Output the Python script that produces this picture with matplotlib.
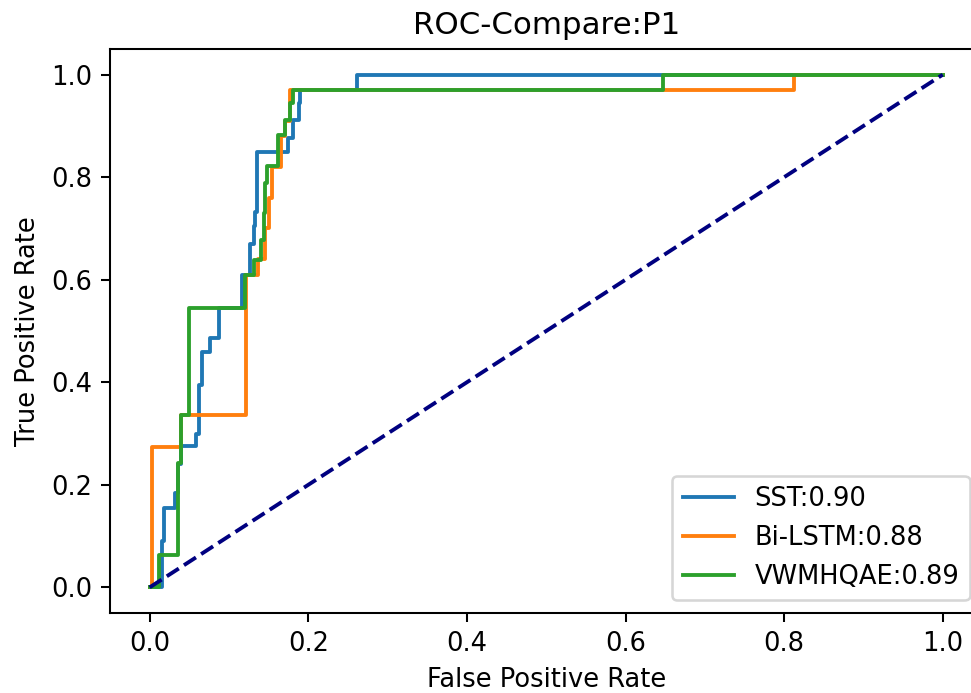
import numpy as np
import matplotlib
matplotlib.use('Agg')
import matplotlib.pyplot as plt

# ROC vertices (fpr, tpr)
sst_fpr = [0.0, 0.015, 0.015, 0.018, 0.018, 0.032, 0.032, 0.036, 0.036, 0.039, 0.039,
           0.059, 0.059, 0.062, 0.062, 0.066, 0.066, 0.076, 0.076, 0.088, 0.088,
           0.116, 0.116, 0.127, 0.127, 0.131, 0.131, 0.133, 0.133, 0.135, 0.135,
           0.175, 0.175, 0.181, 0.181, 0.188, 0.188, 0.190, 0.190, 0.261, 0.261, 1.0]
sst_tpr = [0.0, 0.0, 0.09, 0.09, 0.155, 0.155, 0.185, 0.185, 0.24, 0.24, 0.276,
           0.276, 0.30, 0.30, 0.395, 0.395, 0.46, 0.46, 0.486, 0.486, 0.545,
           0.545, 0.61, 0.61, 0.67, 0.67, 0.704, 0.704, 0.733, 0.733, 0.85,
           0.85, 0.876, 0.876, 0.912, 0.912, 0.944, 0.944, 0.97, 0.97, 1.0, 1.0]

bilstm_fpr = [0.0, 0.003, 0.003, 0.040, 0.040, 0.122, 0.122, 0.137, 0.137, 0.145, 0.145,
              0.150, 0.150, 0.154, 0.154, 0.165, 0.165, 0.171, 0.171, 0.177, 0.177,
              0.813, 0.813, 1.0]
bilstm_tpr = [0.0, 0.0, 0.273, 0.273, 0.336, 0.336, 0.609, 0.609, 0.64, 0.64, 0.70,
              0.70, 0.76, 0.76, 0.82, 0.82, 0.88, 0.88, 0.91, 0.91, 0.97,
              0.97, 1.0, 1.0]

vwm_fpr = [0.0, 0.012, 0.012, 0.036, 0.036, 0.039, 0.039, 0.049, 0.049, 0.120, 0.120,
           0.131, 0.131, 0.141, 0.141, 0.144, 0.144, 0.146, 0.146, 0.148, 0.148,
           0.162, 0.162, 0.171, 0.171, 0.177, 0.177, 0.181, 0.181, 0.647, 0.647, 1.0]
vwm_tpr = [0.0, 0.0, 0.063, 0.063, 0.243, 0.243, 0.336, 0.336, 0.545, 0.545, 0.609,
           0.609, 0.638, 0.638, 0.678, 0.678, 0.73, 0.73, 0.788, 0.788, 0.821,
           0.821, 0.883, 0.883, 0.912, 0.912, 0.944, 0.944, 0.97, 0.97, 1.0, 1.0]

labels = ['SST:0.90', 'Bi-LSTM:0.88', 'VWMHQAE:0.89']

DPI = 185
fig = plt.figure(figsize=(972 / DPI, 693 / DPI), dpi=DPI)
ax = fig.add_axes([110 / 972, 80 / 693, 872.4 / 972, 564 / 693])

ax.plot(sst_fpr, sst_tpr, label=labels[0])
ax.plot(bilstm_fpr, bilstm_tpr, label=labels[1])
ax.plot(vwm_fpr, vwm_tpr, label=labels[2])
ax.plot([0, 1], [0, 1], color='navy', lw=1.5, linestyle='--')

ax.set_xlim(-0.05, 1.05)
ax.set_ylim(-0.05, 1.05)
ax.set_xlabel('False Positive Rate')
ax.set_ylabel('True Positive Rate')
ax.set_title('ROC-Compare:P1')
ax.legend(loc='lower right')

fig.savefig('out.png', dpi=DPI)
